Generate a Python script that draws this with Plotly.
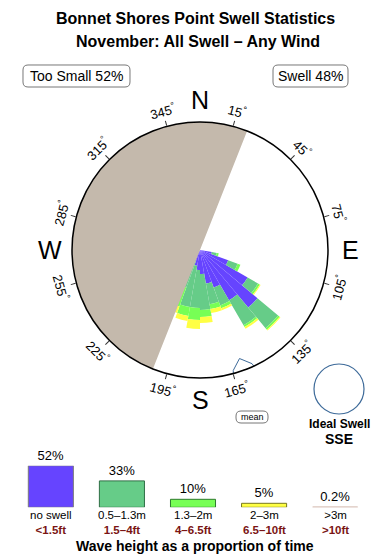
import math
import plotly.graph_objects as go

W, H = 390, 560
FONT = "Liberation Sans, Arial, sans-serif"

# ---------------- data ----------------
TITLE1 = "Bonnet Shores Point Swell Statistics"
TITLE2 = "November: All Swell – Any Wind"
TOO_SMALL_PCT = 52
SWELL_PCT = 48
MEAN_DIR = 160
IDEAL_DIR_LABEL = "SSE"
BLOCKED_FROM = 21.6   # shadowed half from this bearing...
BLOCKED_TO = 201.6    # ...to this one, going through West

DIRS = [105, 115, 125, 135, 145, 155, 165, 175, 185, 195, 205]
R_NOSWELL = [12, 30, 55, 75, 58, 40, 34, 24, 20, 16, 12]
R_SMALL = [5, 10, 12, 27, 29, 19, 21, 36, 38, 42, 28]
R_MED = [2, 3, 2, 2, 2, 3, 5, 7, 12, 9, 20]
R_LARGE = [0, 0, 1, 1, 2, 2, 4, 6, 9, 5, 7]
R_XL = [0, 0, 0, 0, 0, 0, 0, 0, 0, 0, 0]

CAT_LABELS = ["no swell", "0.5–1.3m", "1.3–2m", "2–3m", ">3m"]
CAT_FEET = ["&lt;1.5ft", "1.5–4ft", "4–6.5ft", "6.5–10ft", "&gt;10ft"]
CAT_PCT = [52, 33, 10, 5, 0.2]
CAT_COLORS = ["#6644ff", "#66cc88", "#77ff55", "#ffff44", "#c8a89c"]
CAT_LINES = ["#7a7a7a", "#2e6e45", "#2e7a2e", "#77771f", "#c8a89c"]

TICK_DIRS = [15, 45, 75, 105, 135, 165, 195, 225, 255, 285, 315, 345]
COMPASS = [("N", 0), ("E", 90), ("S", 180), ("W", 270)]

# ---------------- geometry (pixels) ----------------
CX, CY, RAD = 200, 250, 128


def px(x):
    return x / W


def py(y):
    return 1 - y / H


fig = go.Figure()

series = [R_NOSWELL, R_SMALL, R_MED, R_LARGE, R_XL]
for vals, col in zip(series, CAT_COLORS):
    fig.add_trace(go.Barpolar(r=vals, theta=DIRS, width=[10] * len(DIRS),
                              marker=dict(color=col, line=dict(width=0)),
                              showlegend=False, hoverinfo="skip"))

# shadowed half
span = (BLOCKED_FROM - BLOCKED_TO) % 360
mid = (BLOCKED_TO + span / 2) % 360
fig.add_trace(go.Barpolar(r=[RAD], theta=[mid], width=[span],
                          marker=dict(color="#c4b9ac", line=dict(width=0)),
                          showlegend=False, hoverinfo="skip"))

# mean direction marker (arrow-house sitting on the rim, pointing inward)
loc = [(-11, 0.5), (11, 0.5), (10, -3), (0, -12.5), (-10, -3), (-11, 0.5)]
mr, mt = [], []
for t, v in loc:
    rr = RAD + v
    mr.append(rr)
    mt.append(MEAN_DIR + math.degrees(t / rr))
fig.add_trace(go.Scatterpolar(r=mr, theta=mt, mode="lines", fill="toself",
                              fillcolor="white", line=dict(color="#3d6a99", width=1),
                              showlegend=False, hoverinfo="skip"))

fig.update_layout(
    polar=dict(
        domain=dict(x=[px(CX - RAD), px(CX + RAD)], y=[py(CY + RAD), py(CY - RAD)]),
        bgcolor="white",
        barmode="stack",
        angularaxis=dict(direction="clockwise", rotation=90, showgrid=False,
                         tickmode="array", tickvals=TICK_DIRS, ticks="outside",
                         ticklen=5, tickcolor="#333", tickwidth=1,
                         showticklabels=False, showline=True,
                         linecolor="black", linewidth=1.5),
        radialaxis=dict(range=[0, RAD], visible=False),
    )
)

# legend bars
fig.add_trace(go.Bar(x=list(range(5)), y=CAT_PCT, width=0.634,
                     marker=dict(color=CAT_COLORS, line=dict(color=CAT_LINES, width=1)),
                     text=[f"{p}%" for p in CAT_PCT], textposition="outside",
                     textfont=dict(size=13, color="black", family=FONT),
                     cliponaxis=False, showlegend=False, hoverinfo="skip",
                     xaxis="x", yaxis="y"))
fig.update_layout(
    xaxis=dict(domain=[px(15.3), px(370.7)], range=[-0.5, 4.5], visible=False, fixedrange=True),
    yaxis=dict(domain=[py(507.3), py(465.7)], range=[0, 52], visible=False, fixedrange=True),
)

ann = []
ann.append(dict(text=f"<b>{TITLE1}</b>", x=px(195), y=py(19), font=dict(size=16)))
ann.append(dict(text=f"<b>{TITLE2}</b>", x=px(198), y=py(42), font=dict(size=16)))
ann.append(dict(text=f"Too Small {TOO_SMALL_PCT}%", x=px(76.5), y=py(76), font=dict(size=14)))
ann.append(dict(text=f"Swell {SWELL_PCT}%", x=px(310.5), y=py(76), font=dict(size=14)))

for b in TICK_DIRS:
    rad = math.radians(b)
    x = CX + 144 * math.sin(rad)
    y = CY - 144 * math.cos(rad)
    ang = b if (b < 90 or b > 270) else b - 180
    if ang > 180:
        ang -= 360
    ann.append(dict(text=f"{b}<sup>°</sup>", x=px(x), y=py(y), textangle=ang,
                    font=dict(size=13)))

for lab, b in COMPASS:
    rad = math.radians(b)
    x = CX + 150 * math.sin(rad)
    y = CY - 150 * math.cos(rad)
    ann.append(dict(text=lab, x=px(x), y=py(y), font=dict(size=25)))

for i, (a, f) in enumerate(zip(CAT_LABELS, CAT_FEET)):
    ann.append(dict(text=f"{a}<br><b><span style='color:#7a1414'>{f}</span></b>",
                    x=i, xref="x", y=py(522), font=dict(size=11.5)))
ann.append(dict(text="<b>Wave height as a proportion of time</b>", x=px(195), y=py(546),
                font=dict(size=14)))
ann.append(dict(text="mean", x=px(252), y=py(417), font=dict(size=9)))
ann.append(dict(text="<b>Ideal Swell</b>", x=px(339), y=py(424), font=dict(size=12)))
ann.append(dict(text=f"<b>{IDEAL_DIR_LABEL}</b>", x=px(339), y=py(439), font=dict(size=14)))

for a in ann:
    a.setdefault("xref", "paper")
    a["yref"] = "paper"
    a["showarrow"] = False
    a["xanchor"] = "center"
    a["yanchor"] = "middle"
    f = a["font"]
    f.setdefault("family", FONT)
    f.setdefault("color", "black")


def rrect(x0, y0, x1, y1, r):
    X = lambda v: f"{px(v):.5f}"
    Y = lambda v: f"{py(v):.5f}"
    return (f"M{X(x0 + r)},{Y(y0)} L{X(x1 - r)},{Y(y0)} Q{X(x1)},{Y(y0)} {X(x1)},{Y(y0 + r)} "
            f"L{X(x1)},{Y(y1 - r)} Q{X(x1)},{Y(y1)} {X(x1 - r)},{Y(y1)} "
            f"L{X(x0 + r)},{Y(y1)} Q{X(x0)},{Y(y1)} {X(x0)},{Y(y1 - r)} "
            f"L{X(x0)},{Y(y0 + r)} Q{X(x0)},{Y(y0)} {X(x0 + r)},{Y(y0)} Z")


shapes = [
    dict(type="path", path=rrect(23, 65, 130, 87, 5), xref="paper", yref="paper",
         line=dict(color="#777", width=1)),
    dict(type="path", path=rrect(273, 65, 348, 87, 5), xref="paper", yref="paper",
         line=dict(color="#777", width=1)),
    dict(type="path", path=rrect(236, 411, 268, 423, 5), xref="paper", yref="paper",
         line=dict(color="#777", width=1)),
    dict(type="circle", xref="paper", yref="paper", x0=px(314), x1=px(364),
         y0=py(414), y1=py(364), line=dict(color="#3d6a99", width=1.2)),
]

fig.update_layout(width=W, height=H, margin=dict(l=0, r=0, t=0, b=0),
                  paper_bgcolor="white", plot_bgcolor="white",
                  annotations=ann, shapes=shapes, font=dict(family=FONT))

fig.write_html("out.html")
